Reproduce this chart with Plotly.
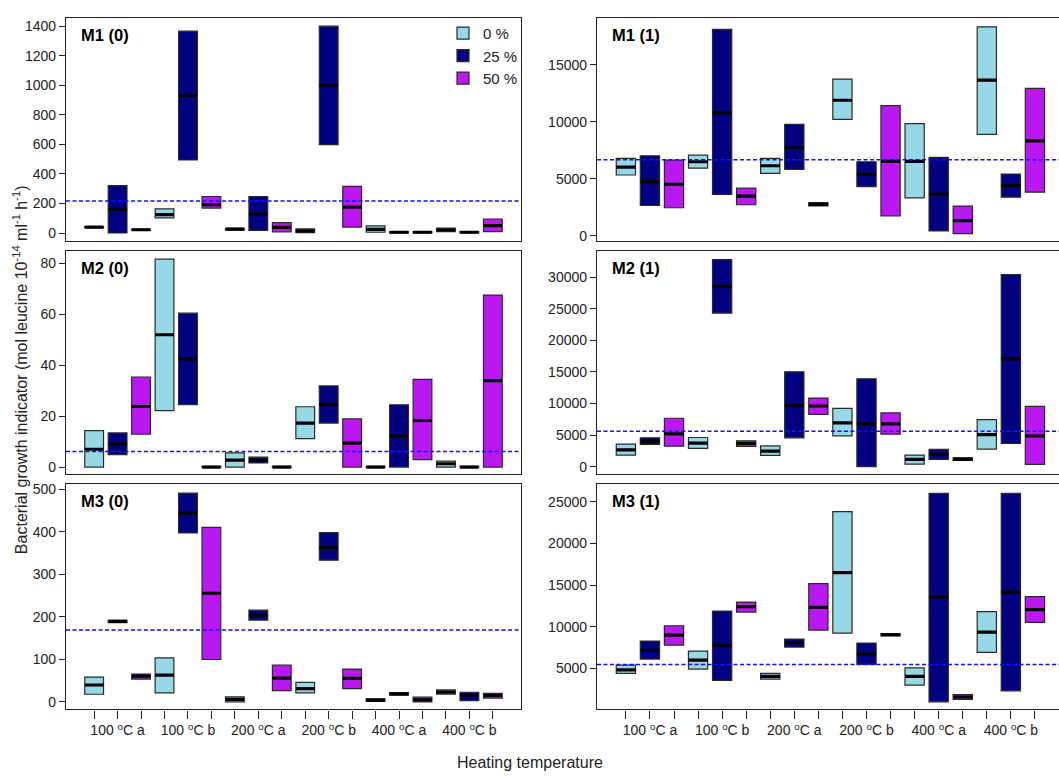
import plotly.graph_objects as go
from plotly.subplots import make_subplots

# ---------------- data ----------------
categories = ["100 <sup>o</sup>C a", "100 <sup>o</sup>C b", "200 <sup>o</sup>C a",
              "200 <sup>o</sup>C b", "400 <sup>o</sup>C a", "400 <sup>o</sup>C b"]
series = ["0 %", "25 %", "50 %"]
panel_titles = ["M1 (0)", "M1 (1)", "M2 (0)", "M2 (1)", "M3 (0)", "M3 (1)"]

# boxes ordered: category1 (0%,25%,50%), category2 (0%,25%,50%), ...
M1_0_lo = [36, 0, 18, 103, 494, 169, 20, 18, 7, 2, 598, 40, 5, 0, 0, 10, 0, 10]
M1_0_med = [40, 160, 22, 125, 930, 192, 26, 128, 38, 15, 1000, 175, 25, 5, 5, 22, 5, 50]
M1_0_hi = [44, 321, 26, 164, 1366, 247, 32, 247, 70, 28, 1400, 315, 48, 10, 10, 34, 10, 95]

M1_1_lo = [5340, 2670, 2467, 5949, 3628, 2728, 5485, 5833, 2620, 10215, 4324, 1741, 3337, 435, 203, 8909, 3395, 3831]
M1_1_med = [6036, 4759, 4527, 6500, 10795, 3482, 6152, 7748, 2770, 11898, 5398, 6530, 6530, 3657, 1335, 13668, 4411, 8329]
M1_1_hi = [6791, 7023, 6646, 7081, 18108, 4179, 6791, 9780, 2920, 13755, 6500, 11434, 9838, 6878, 2612, 18341, 5427, 12943]

M2_0_lo = [0, 4.9, 12.9, 22.2, 24.5, 0, 0, 1.6, 0, 11.2, 17.3, 0, 0, 0, 2.9, 0, 0, 0]
M2_0_med = [7.0, 9.1, 23.8, 52.0, 42.5, 0, 2.7, 2.6, 0, 17.3, 24.5, 9.4, 0, 12.2, 18.3, 1.3, 0, 34.0]
M2_0_hi = [14.3, 13.4, 35.4, 81.7, 60.5, 0.3, 5.6, 3.9, 0.3, 23.7, 31.9, 18.9, 0.3, 24.5, 34.5, 2.3, 0.3, 67.6]

M2_1_lo = [1839, 3520, 3257, 2890, 24326, 3205, 1786, 4571, 8301, 4886, 0, 5149, 420, 1156, 1000, 2785, 3678, 368]
M2_1_med = [2680, 4046, 5201, 3730, 28529, 3678, 2469, 9720, 9615, 6935, 6778, 6778, 1156, 1944, 1200, 5096, 17076, 4886]
M2_1_hi = [3573, 4571, 7671, 4624, 32785, 4098, 3310, 15026, 10876, 9247, 13923, 8511, 1839, 2732, 1400, 7461, 30420, 9562]

M3_0_lo = [17.9, 186, 53.7, 21.0, 397.2, 99.7, 0, 192.4, 26.5, 21.0, 333.3, 31.2, 1, 16, 0, 18, 3.1, 9]
M3_0_med = [39.7, 189, 60.7, 63.1, 443.9, 255.4, 6, 204, 56, 31.2, 362.9, 55.3, 4, 19, 5, 23, 15.6, 15]
M3_0_hi = [58.4, 192, 65.4, 103.6, 490.6, 410.4, 12, 215.7, 86.4, 45.9, 398, 77.1, 7, 22, 11, 28, 22.6, 20]

M3_1_lo = [4400, 6120, 7800, 4920, 3560, 11760, 3720, 7560, 9600, 9240, 5480, 8900, 3000, 1000, 1300, 6920, 2320, 10520]
M3_1_med = [4840, 7160, 9000, 6000, 7760, 12400, 4060, 8080, 12320, 16480, 6720, 9040, 4040, 13560, 1580, 9360, 14160, 12040]
M3_1_hi = [5400, 8280, 10120, 7080, 11880, 12960, 4400, 8520, 15160, 23800, 8040, 9180, 5080, 26000, 1860, 11800, 26000, 13600]

panel_means = [216, 6675, 6.1, 5622, 169, 5480]

y_ticks = [
    [0, 200, 400, 600, 800, 1000, 1200, 1400],
    [0, 5000, 10000, 15000],
    [0, 20, 40, 60, 80],
    [0, 5000, 10000, 15000, 20000, 25000, 30000],
    [0, 100, 200, 300, 400, 500],
    [5000, 10000, 15000, 20000, 25000],
]
y_ranges = [[-55, 1456], [-464, 19124], [-2.86, 84.9], [-1208, 34151], [-17.9, 511.7], [80, 27080]]

panels = [
    (M1_0_lo, M1_0_med, M1_0_hi),
    (M1_1_lo, M1_1_med, M1_1_hi),
    (M2_0_lo, M2_0_med, M2_0_hi),
    (M2_1_lo, M2_1_med, M2_1_hi),
    (M3_0_lo, M3_0_med, M3_0_hi),
    (M3_1_lo, M3_1_med, M3_1_hi),
]

# ---------------- style ----------------
colors = ["#96D8E6", "#000080", "#BA18F2"]
FONT = "Liberation Sans, Arial, sans-serif"
W, H = 1059, 776

fig = make_subplots(rows=3, cols=2)

for p, (lo, med, hi) in enumerate(panels):
    row = p // 2 + 1
    col = p % 2 + 1
    for s in range(3):
        idx = list(range(s, 18, 3))
        xs = [i + 1 for i in idx]
        fig.add_trace(go.Bar(
            x=xs, base=[lo[i] for i in idx], y=[hi[i] - lo[i] for i in idx],
            width=0.8, name=series[s], marker=dict(color=colors[s], line=dict(color="#2a2a2a", width=1.2)),
            showlegend=(p == 0), legendgroup=series[s], hoverinfo="skip"), row=row, col=col)
    fig.add_trace(go.Scatter(
        x=list(range(1, 19)), y=med, mode="markers",
        marker=dict(symbol="line-ew", size=13.2 if col == 1 else 13.6, color="black",
                    line=dict(color="black", width=3.2)),
        showlegend=False, hoverinfo="skip"), row=row, col=col)

# domains in pixels
col_x = {1: (66, 521), 2: (597, 1059)}
row_y = {1: (15, 240), 2: (250, 475), 3: (485, 712)}
x_rng = {1: [-0.2, 19.2], 2: [-0.2, 19.0]}

for p in range(6):
    row = p // 2 + 1
    col = p % 2 + 1
    n = p + 1
    xa = "xaxis" if n == 1 else f"xaxis{n}"
    ya = "yaxis" if n == 1 else f"yaxis{n}"
    x0, x1 = col_x[col]
    y0, y1 = row_y[row]
    bottom = row == 3
    fig.layout[xa].update(
        domain=[x0 / W, min(x1 / W, 1)], range=x_rng[col],
        showline=True, linecolor="#222", linewidth=1.3, mirror=True,
        showgrid=False, zeroline=False,
        tickmode="array",
        tickvals=list(range(1, 19)) if bottom else [],
        ticktext=[categories[(i - 1) // 3] if (i - 1) % 3 == 1 else "" for i in range(1, 19)] if bottom else [],
        ticks="outside" if bottom else "", ticklen=8, tickcolor="#222", tickwidth=1,
        tickfont=dict(size=14, color="#222", family=FONT),
    )
    fig.layout[ya].update(
        domain=[1 - y1 / H, 1 - y0 / H], range=y_ranges[p],
        showline=True, linecolor="#222", linewidth=1.3, mirror=(col == 1),
        showgrid=False, zeroline=False,
        tickmode="array", tickvals=y_ticks[p], tickformat="d",
        ticks="outside", ticklen=6, tickcolor="#222", tickwidth=1,
        tickfont=dict(size=14, color="#222", family=FONT),
    )
    xref = "x" if n == 1 else f"x{n}"
    yref = "y" if n == 1 else f"y{n}"
    fig.add_shape(type="line", xref=f"{xref} domain", yref=yref, x0=0, x1=1,
                  y0=panel_means[p], y1=panel_means[p],
                  line=dict(color="#1010FF", width=1.5, dash="4px,2.5px"))
    fig.add_annotation(text=f"<b>{panel_titles[p]}</b>", xref=f"{xref} domain", yref=f"{yref} domain",
                       x=0.028, y=0.925, xanchor="left", yanchor="middle", showarrow=False,
                       font=dict(size=16.5, color="black", family=FONT))

fig.add_annotation(text="Bacterial growth indicator (mol leucine 10<sup>-14</sup> ml<sup>-1</sup> h<sup>-1</sup>)",
                   xref="paper", yref="paper", x=20 / W, y=1 - 370 / H, textangle=-90,
                   showarrow=False, xanchor="center", yanchor="middle",
                   font=dict(size=16, color="#222", family=FONT))
fig.add_annotation(text="Heating temperature", xref="paper", yref="paper",
                   x=530 / W, y=1 - 765 / H, showarrow=False, xanchor="center", yanchor="middle",
                   font=dict(size=16, color="#222", family=FONT))

fig.update_layout(
    width=W, height=H, margin=dict(l=0, r=0, t=0, b=0),
    plot_bgcolor="white", paper_bgcolor="white", barmode="overlay",
    font=dict(family=FONT, color="#222"),
    legend=dict(x=443 / W, y=1 - 14 / H, xanchor="left", yanchor="top",
                font=dict(size=15, color="#222", family=FONT), bgcolor="rgba(0,0,0,0)",
                tracegroupgap=0, itemwidth=30),
)

fig.write_html("out.html", config={"displayModeBar": False},
               post_script="document.body.style.margin='0';")
